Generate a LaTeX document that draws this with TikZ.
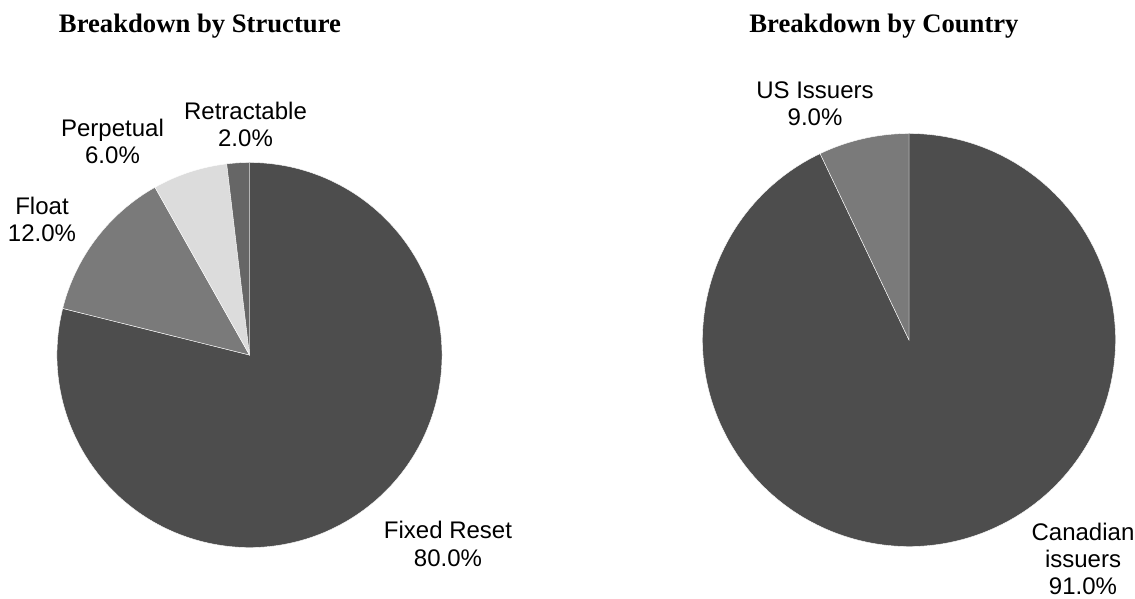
\documentclass[tikz,border=0pt]{standalone}
\usepackage{fontspec}
\setmainfont{Liberation Serif}
\newfontfamily\lblfont{Liberation Sans}
\usetikzlibrary{positioning}
\definecolor{bigslice}{HTML}{4D4D4D}
\definecolor{midslice}{HTML}{7A7A7A}
\definecolor{paleslice}{HTML}{DCDCDC}
\definecolor{thinslice}{HTML}{666666}

\begin{document}
\begin{tikzpicture}[x=0.75pt,y=0.75pt,
  slice/.style={draw=white,line width=0.3pt},
  ttl/.style={font=\fontsize{20}{24}\selectfont\bfseries,anchor=base},
  lbl/.style={font=\lblfont\fontsize{18}{20.5}\selectfont,align=center,inner sep=0pt}]
\useasboundingbox (0,0) rectangle (1135,599);
% structure pie
\coordinate (sc) at (249.5,244);
\fill[bigslice,slice] (sc) -- ++(166:192.5) arc[start angle=166,end angle=450,radius=192.5] -- cycle;
\fill[midslice,slice] (sc) -- ++(119.4:192.5) arc[start angle=119.4,end angle=166,radius=192.5] -- cycle;
\fill[paleslice,slice] (sc) -- ++(96.8:192.5) arc[start angle=96.8,end angle=119.4,radius=192.5] -- cycle;
\fill[thinslice,slice] (sc) -- ++(90:192.5) arc[start angle=90,end angle=96.8,radius=192.5] -- cycle;
\node[ttl] (sttl) at (200,566) {Breakdown by Structure};
\node[lbl] (fixed) at (448,55) {Fixed Reset\\80.0\%};
\node[lbl] (float) at (42,379.5) {Float\\12.0\%};
\node[lbl] (perp) at (112.5,457.5) {Perpetual\\6.0\%};
\node[lbl] (retr) at (245.5,474.5) {Retractable\\2.0\%};
% country pie
\coordinate (cc) at (909,259);
\fill[bigslice,slice] (cc) -- ++(115.5:206.5) arc[start angle=115.5,end angle=450,radius=206.5] -- cycle;
\fill[midslice,slice] (cc) -- ++(90:206.5) arc[start angle=90,end angle=115.5,radius=206.5] -- cycle;
\node[ttl] (cttl) at (884,566) {Breakdown by Country};
\node[lbl] (cdn) at (1083,40) {Canadian\\issuers\\91.0\%};
\node[lbl] (usi) at (815,495.5) {US Issuers\\9.0\%};
\end{tikzpicture}
\end{document}
